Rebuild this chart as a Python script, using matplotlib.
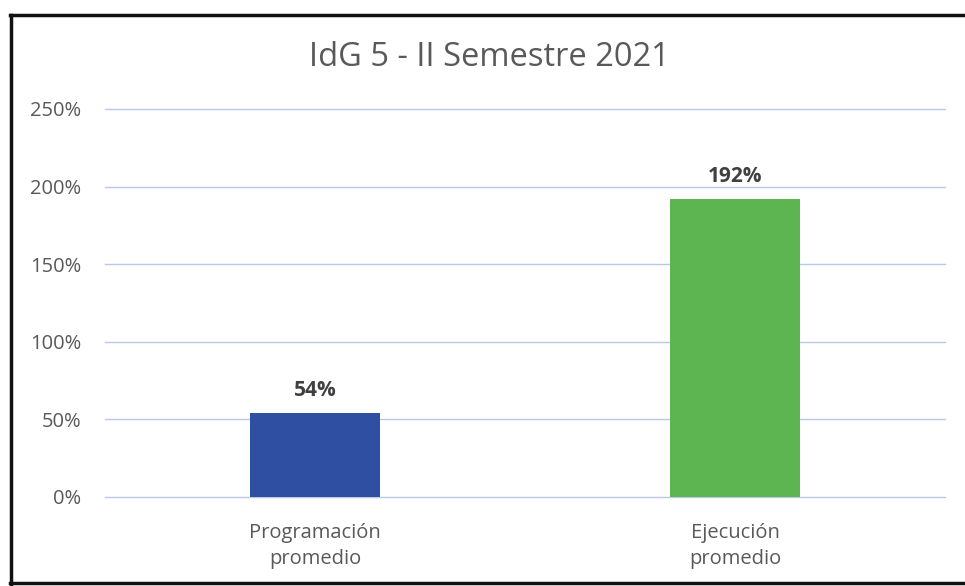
import matplotlib
matplotlib.use("Agg")
import matplotlib.pyplot as plt
from matplotlib.lines import Line2D

categories = ["Programación\npromedio", "Ejecución\npromedio"]
values = [54, 192]
labels = ["54%", "192%"]
yticks = [0, 50, 100, 150, 200, 250]
ytick_labels = ["0%", "50%", "100%", "150%", "200%", "250%"]
title = "IdG 5 - II Semestre 2021"
colors = ["#2F4FA2", "#5DB552"]

W, H = 965, 586
fig = plt.figure(figsize=(W / 100, H / 100), dpi=100)
fig.patch.set_facecolor("white")
ax = fig.add_axes([105 / W, 89 / H, 840 / W, 388 / H])

x = list(range(len(categories)))
ax.bar(x, values, width=0.31, color=colors, zorder=3)
ax.set_xlim(-0.5, 1.5)
ax.set_ylim(0, 250)
ax.set_yticks(yticks)
ax.set_yticklabels(ytick_labels)
ax.set_xticks(x)
ax.set_xticklabels(categories, linespacing=1.45)
ax.grid(axis="y", color="#B7CBE6", linewidth=1.0, zorder=0)
for gl in ax.get_ygridlines():
    gl.set_clip_on(False)
for s in ax.spines.values():
    s.set_visible(False)
ax.tick_params(axis="both", length=0, colors="#595959")
ax.tick_params(axis="y", pad=17, labelsize=14.5)
ax.tick_params(axis="x", pad=18.5, labelsize=14.5)
for lab in ax.get_xticklabels() + ax.get_yticklabels():
    lab.set_fontfamily("Open Sans")
    lab.set_color("#595959")

for xi, v, t in zip(x, values, labels):
    ax.annotate(t, (xi, v), xytext=(0, 9), textcoords="offset points",
                ha="center", va="bottom", fontsize=15, fontweight="bold",
                color="#404040", family="Open Sans")

fig.text(489 / W, 1 - 58 / H, title, ha="center", va="center",
         fontsize=23.5, color="#595959", family="Open Sans")

# scanned frame border
fig.add_artist(Line2D([10 / W, 1], [1 - 15 / H, 1 - 15 / H], color="#111111", linewidth=2.5, transform=fig.transFigure))
fig.add_artist(Line2D([11 / W, 11 / W], [0, 1 - 15 / H], color="#111111", linewidth=2.5, transform=fig.transFigure))
fig.add_artist(Line2D([10 / W, 1], [3.5 / H, 3.5 / H], color="#111111", linewidth=2.5, transform=fig.transFigure))

fig.savefig("out.png", dpi=100)
